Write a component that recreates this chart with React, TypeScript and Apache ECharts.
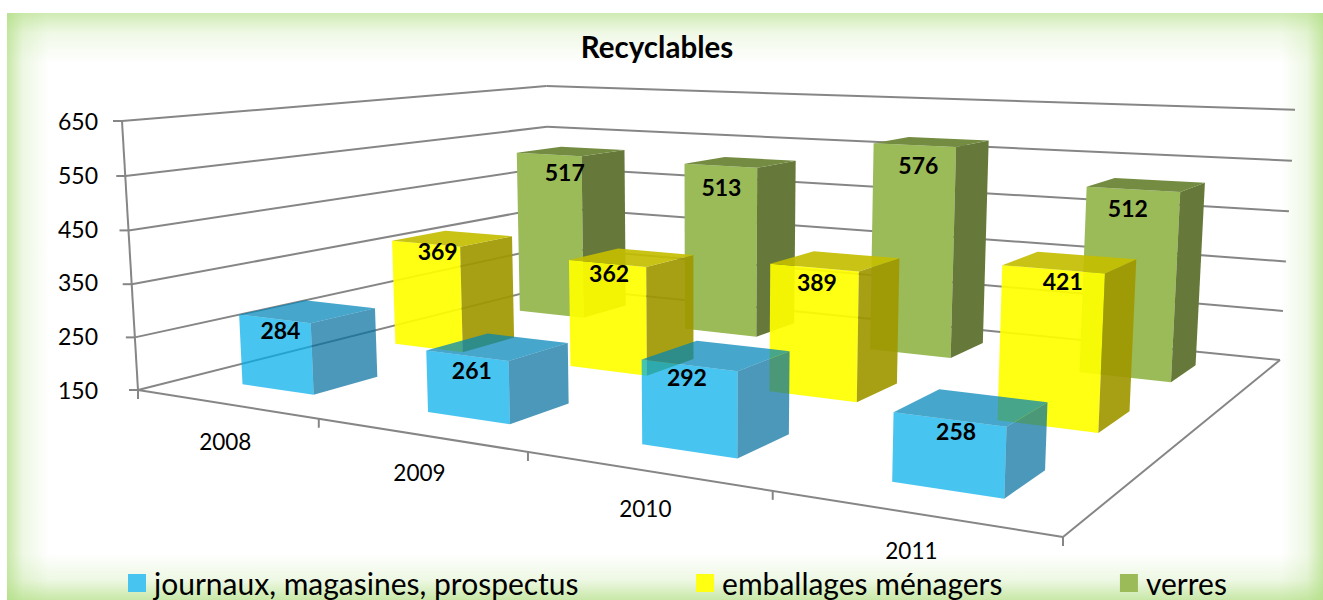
import React, { useEffect, useRef } from "react";
import * as echarts from "echarts";

const title = "Recyclables";
const categories = ["2008", "2009", "2010", "2011"];
const seriesNames = ["journaux, magasines, prospectus", "emballages ménagers", "verres"];
const journaux = [284, 261, 292, 258];
const emballages = [369, 362, 389, 421];
const verres = [517, 513, 576, 512];
const yMin = 150;
const yMax = 650;
const yStep = 100;

// Style and layout
const FONT = "Lato, 'Open Sans', sans-serif";
const GRID = { left: 124, top: 121, width: 1000, height: 269 };
const A = [138, 390]; // floor front-left
const F = [1063, 537]; // floor front-right
const E = [1280, 360]; // floor back-right
const G = [549.6, 286.5]; // floor back-left
const B = [122, 121]; // wall top front-left
const V = [706, 9930]; // vanishing point of the verticals
const BAR_FRACTION = 0.4;
const faces = [
  { front: [71, 196, 240], side: [76, 152, 186], top: [69, 166, 203], alpha: 0.72 },
  { front: [255, 255, 18], side: [168, 160, 8], top: [200, 195, 10], alpha: 0.92 },
  { front: [155, 187, 89], side: [103, 121, 58], top: [116, 140, 66], alpha: 1 },
];
const legendColors = ["#47C4F0", "#FFFF12", "#9BBB59"];
// Small per-label offsets from the top of the bar's front face, [dx, dy]
const labelNudge = [
  [[6, 11], [5, 14], [-2, 12], [7, 12]],
  [[12, 7], [2, 9], [3, 14], [10, 12]],
  [[16, 18], [1, 21], [4, 20], [-5, 19]],
];

function det(a: number[], b: number[]) {
  return a[0] * b[1] - a[1] * b[0];
}
const dx1 = [F[0] - E[0], F[1] - E[1]];
const dx2 = [G[0] - E[0], G[1] - E[1]];
const sv = [A[0] - F[0] + E[0] - G[0], A[1] - F[1] + E[1] - G[1]];
const dd = det(dx1, dx2);
const gg = det(sv, dx2) / dd;
const hh = det(dx1, sv) / dd;
const p1 = [F[0] - A[0] + gg * F[0], F[1] - A[1] + gg * F[1], gg];
const p2 = [G[0] - A[0] + hh * G[0], G[1] - A[1] + hh * G[1], hh];
const p4 = [A[0], A[1], 1];
const lambda = (B[1] - A[1]) / (V[1] - B[1]);
const p3 = [lambda * V[0], lambda * V[1], lambda];

function project(u: number, v: number, t: number) {
  const X = p1[0] * u + p2[0] * v + p3[0] * t + p4[0];
  const Y = p1[1] * u + p2[1] * v + p3[1] * t + p4[1];
  const W = p1[2] * u + p2[2] * v + p3[2] * t + p4[2];
  return [X / W, Y / W];
}

function solid(c: number[], a: number) {
  const f = (d: number) => Math.max(0, Math.round((d - (1 - a) * 255) / a));
  return `rgba(${f(c[0])},${f(c[1])},${f(c[2])},${a})`;
}

const tn = (v: number) => (v - yMin) / (yMax - yMin);

function barRenderer(seriesIndex: number) {
  return (_params: any, api: any) => {
    const cat = api.value(0);
    const val = api.value(1);
    const pt = api.coord([cat, val]);
    const uc = (pt[0] - GRID.left) / GRID.width;
    const t = (GRID.top + GRID.height - pt[1]) / GRID.height;
    const du = BAR_FRACTION / categories.length / 2;
    const v0 = (seriesIndex + 0.5 - BAR_FRACTION / 2) / seriesNames.length;
    const v1 = (seriesIndex + 0.5 + BAR_FRACTION / 2) / seriesNames.length;
    const u0 = uc - du;
    const u1 = uc + du;
    const st = faces[seriesIndex];
    const poly = (pts: number[][], fill: string) => ({
      type: "polygon",
      shape: { points: pts },
      style: { fill, stroke: null },
    });
    const labelAt = project(uc, v0, t);
    const nudge = labelNudge[seriesIndex][cat];
    return {
      type: "group",
      children: [
        poly([project(u0, v0, 0), project(u1, v0, 0), project(u1, v0, t), project(u0, v0, t)], solid(st.front, st.alpha)),
        poly([project(u1, v0, 0), project(u1, v1, 0), project(u1, v1, t), project(u1, v0, t)], solid(st.side, st.alpha)),
        poly([project(u0, v0, t), project(u1, v0, t), project(u1, v1, t), project(u0, v1, t)], solid(st.top, st.alpha)),
        {
          type: "text",
          style: {
            text: String(val),
            x: labelAt[0] + nudge[0],
            y: labelAt[1] + nudge[1],
            align: "center",
            verticalAlign: "middle",
            fill: "#000",
            font: `bold 23px ${FONT}`,
          },
        },
      ],
    };
  };
}

const LINE = { stroke: "#868686", lineWidth: 2 };
const seg = (a: number[], b: number[]) => ({
  type: "line",
  shape: { x1: a[0], y1: a[1], x2: b[0], y2: b[1] },
  style: LINE,
});

function frameRenderer(params: any, api: any) {
  if (params.dataIndex !== 0) return { type: "group", children: [] };
  const children: any[] = [];
  for (let v = yMin; v <= yMax; v += yStep) {
    const t = tn(v);
    const a = project(0, 0, t);
    const b = project(0, 1, t);
    const c = project(1, 1, t);
    children.push(seg(a, b), seg(b, c), seg([a[0] - 9, a[1]], a));
  }
  children.push(seg(project(0, 0, 0), project(0, 0, 1)));
  children.push(seg(project(0, 0, 0), project(1, 0, 0)));
  children.push(seg(project(1, 0, 0), project(1, 1, 0)));
  categories.forEach((_c, i) => {
    const p = project(i / categories.length, 0, 0);
    children.push(seg(p, [p[0], p[1] + 9]));
  });
  const last = project(1, 0, 0);
  children.push(seg(last, [last[0], last[1] + 9]));
  return { type: "group", children };
}

function catLabelRenderer(_params: any, api: any) {
  const i = api.value(0);
  const pt = api.coord([i, yMin]);
  const uc = (pt[0] - GRID.left) / GRID.width;
  const p = project(uc, 0, 0);
  return {
    type: "text",
    style: {
      text: categories[i],
      x: p[0],
      y: p[1] + 38,
      align: "center",
      verticalAlign: "middle",
      fill: "#000",
      font: `22.5px ${FONT}`,
    },
  };
}

export default function App() {
  const ref = useRef<HTMLDivElement>(null);
  useEffect(() => {
    const chart = echarts.init(ref.current!, undefined, { renderer: "svg" });
    const values = [journaux, emballages, verres];
    const barSeries = [2, 1, 0].map((k) => ({
      type: "custom",
      name: seriesNames[k],
      coordinateSystem: "cartesian2d",
      renderItem: barRenderer(k),
      data: values[k].map((v, i) => [i, v]),
      encode: { x: 0, y: 1 },
      itemStyle: { color: legendColors[k] },
      z: 5 - k + 2,
      silent: true,
    }));
    chart.setOption({
      animation: false,
      backgroundColor: "transparent",
      title: {
        text: title,
        left: 652,
        top: 26,
        textAlign: "center",
        textStyle: { fontFamily: FONT, fontWeight: "bold", fontSize: 29.5, color: "#000" },
      },
      legend: {
        left: 128,
        top: 568,
        padding: 0,
        itemWidth: 18,
        itemHeight: 18,
        itemGap: 117.5,
        icon: "rect",
        data: seriesNames,
        selectedMode: false,
        textStyle: { fontFamily: FONT, fontSize: 30, color: "#000", lineHeight: 24, padding: [0, 0, 0, 3] },
      },
      grid: { left: GRID.left, top: GRID.top, width: GRID.width, height: GRID.height },
      xAxis: { type: "category", data: categories, show: false },
      yAxis: {
        type: "value",
        min: 150,
        max: 650,
        interval: yStep,
        axisLine: { show: false },
        axisTick: { show: false },
        splitLine: { show: false },
        axisLabel: { fontFamily: FONT, fontSize: 23, color: "#000", margin: 26 },
      },
      series: [
        {
          type: "custom",
          name: "frame",
          coordinateSystem: "cartesian2d",
          renderItem: frameRenderer,
          data: [[0, yMin]],
          encode: { x: 0, y: 1 },
          silent: true,
          z: 1,
        },
        {
          type: "custom",
          name: "categories",
          coordinateSystem: "cartesian2d",
          renderItem: catLabelRenderer,
          data: categories.map((_c, i) => [i, yMin]),
          encode: { x: 0, y: 1 },
          silent: true,
          z: 1,
        },
        ...barSeries,
      ],
    });
    return () => chart.dispose();
  }, []);
  const green = "176,222,130";
  return (
    <div style={{ position: "absolute", left: 0, top: 0, width: 1323, height: 600, background: "#fff", overflow: "hidden" }}>
      <div
        style={{
          position: "absolute",
          left: 7,
          top: 13,
          width: 1316,
          height: 587,
          backgroundImage: [
            `linear-gradient(to bottom, rgba(${green},0.6) 0, rgba(${green},0.2) 20px, rgba(${green},0) 50px)`,
            `linear-gradient(to top, rgba(${green},0.7) 0, rgba(${green},0.22) 20px, rgba(${green},0) 46px)`,
            `linear-gradient(to right, rgba(${green},0.7) 0, rgba(${green},0.22) 16px, rgba(${green},0) 42px)`,
            `linear-gradient(to left, rgba(${green},0.7) 0, rgba(${green},0.22) 16px, rgba(${green},0) 42px)`,
          ].join(","),
        }}
      />
      <div ref={ref} style={{ position: "absolute", left: 0, top: 0, width: 1323, height: 600 }} />
    </div>
  );
}
